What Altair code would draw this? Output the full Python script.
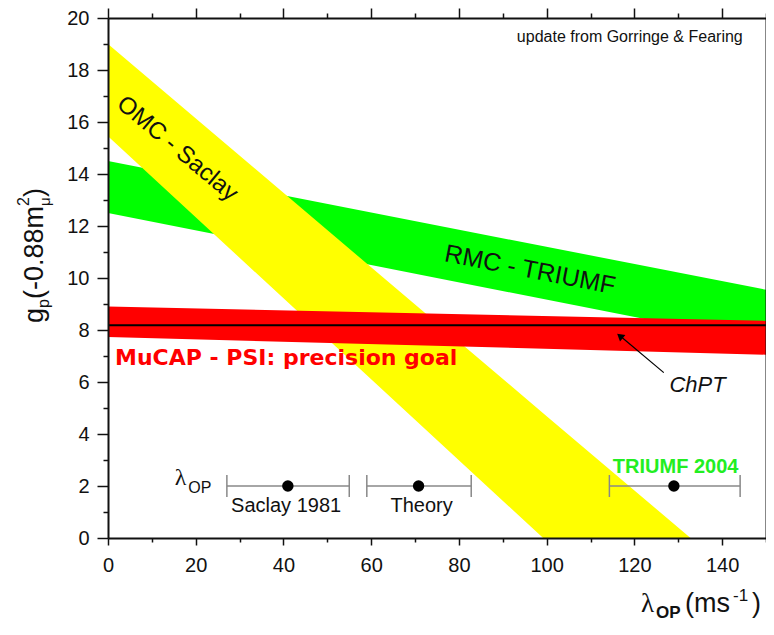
import altair as alt
import pandas as pd

FONT = "Liberation Sans"
SERIF = "Liberation Serif"
INK = "#111111"

# ---------------- data ----------------
X_DOMAIN = [0, 150]
Y_DOMAIN = [0, 20]

# OMC - Saclay band (yellow)
omc_x = [0.0, 99.2, 132.8]
omc_hi = [19.0, 4.8, 0.0]
omc_lo = [15.45, 0.0, 0.0]

# RMC - TRIUMF band (green)
rmc_x = [0.0, 150.0]
rmc_hi = [14.5, 9.55]
rmc_lo = [12.5, 7.5]

# MuCAP - PSI precision goal band (red)
mucap_x = [0.0, 150.0]
mucap_hi = [8.9, 8.35]
mucap_lo = [7.73, 7.05]

# ChPT prediction
chpt_value = [8.18]

# lambda_OP measurements / theory
exp_names = ["Saclay 1981", "Theory", "TRIUMF 2004"]
lam_center = [41.0, 70.8, 129.0]
lam_lo = [27.1, 59.0, 114.3]
lam_hi = [55.0, 82.8, 144.1]
lam_y = [2.0, 2.0, 2.0]

# ChPT arrow (tail -> head)
arrow_x = [126.7]
arrow_y = [6.36]
arrow_x2 = [116.9]
arrow_y2 = [7.75]
head_x = [116.7]
head_y = [7.77]

# ---------------- helpers ----------------
xs = alt.Scale(domain=X_DOMAIN, nice=False, zero=False)
ys = alt.Scale(domain=Y_DOMAIN, nice=False, zero=False)


def X(field, axis=None):
    return alt.X(field, type="quantitative", scale=xs, axis=axis)


def Y(field, axis=None):
    return alt.Y(field, type="quantitative", scale=ys, axis=axis)


common = dict(
    grid=False, domainColor=INK, domainWidth=2, tickColor=INK, tickWidth=1.5,
    labelFont=FONT, labelFontSize=20, labelColor=INK, labelOverlap=False,
    labelFlush=False, zindex=1, title=None,
)
xvals = list(range(0, 151, 10))
yvals = list(range(0, 21, 1))


def tsize(mod, big, small):
    return {"condition": {"test": f"datum.value % {mod} === 0", "value": big}, "value": small}


bottom_axis = alt.Axis(orient="bottom", values=xvals, tickSize=tsize(20, 7, 4),
                       labelExpr="datum.value % 20 === 0 ? datum.label : ''",
                       labelPadding=10, **common)
left_axis = alt.Axis(orient="left", values=yvals, tickSize=tsize(2, 11, 5),
                     labelExpr="datum.value % 2 === 0 ? datum.label : ''",
                     labelPadding=8, **common)
top_axis = alt.Axis(orient="top", values=xvals, tickSize=tsize(20, 10, 5),
                    labels=False, **common)
right_axis = alt.Axis(orient="right", values=yvals, tickSize=tsize(2, 10, 5),
                      labels=False, **common)

# ---------------- bands ----------------
green = alt.Chart(pd.DataFrame({"x": rmc_x, "hi": rmc_hi, "lo": rmc_lo})).mark_area(
    color="#00FF00", opacity=1
).encode(x=X("x", bottom_axis), y=Y("hi", left_axis), y2="lo")

yellow = alt.Chart(pd.DataFrame({"x": omc_x, "hi": omc_hi, "lo": omc_lo})).mark_area(
    color="#FFFF00", opacity=1
).encode(x=X("x", top_axis), y=Y("hi", right_axis), y2="lo")

red = alt.Chart(pd.DataFrame({"x": mucap_x, "hi": mucap_hi, "lo": mucap_lo})).mark_area(
    color="#FF0000", opacity=1
).encode(x=X("x"), y=Y("hi"), y2="lo")

chpt = alt.Chart(pd.DataFrame({"y": chpt_value})).mark_rule(
    color="#000000", strokeWidth=2
).encode(y=Y("y"))

arrow = alt.Chart(pd.DataFrame({"x": arrow_x, "y": arrow_y, "x2": arrow_x2, "y2": arrow_y2})).mark_rule(
    color="#000000", strokeWidth=1.2
).encode(x=X("x"), y=Y("y"), x2="x2", y2="y2")

arrow_head = alt.Chart(pd.DataFrame({"x": head_x, "y": head_y})).mark_point(
    shape="triangle-up", filled=True, size=70, angle=310, color="#000000", opacity=1
).encode(x=X("x"), y=Y("y"))

# ---------------- lambda_OP error bars ----------------
lam_df = pd.DataFrame({"name": exp_names, "c": lam_center, "lo": lam_lo, "hi": lam_hi, "y": lam_y})
caps_df = pd.DataFrame({"x": lam_lo + lam_hi, "y": lam_y + lam_y})

bars = alt.Chart(lam_df).mark_rule(color="#888888", strokeWidth=1.5).encode(
    x=X("lo"), x2="hi", y=Y("y"))
caps = alt.Chart(caps_df).mark_tick(orient="vertical", size=22, thickness=1.5,
                                    color="#888888", opacity=1).encode(x=X("x"), y=Y("y"))
dots = alt.Chart(lam_df).mark_circle(size=130, color="#000000", opacity=1).encode(
    x=X("c"), y=Y("y"))


# ---------------- annotations (data coordinates) ----------------
def label(text, x, y, **kw):
    return alt.Chart(pd.DataFrame({"x": [x], "y": [y]})).mark_text(
        text=text, **kw).encode(x=X("x"), y=Y("y"))


ann = [
    label("OMC - Saclay", 15.8, 14.97, angle=40, fontSize=24, font=FONT, color=INK,
          align="center", baseline="middle"),
    label("RMC - TRIUMF", 96.2, 10.32, angle=11, fontSize=25, font=FONT, color=INK,
          align="center", baseline="middle"),
    label("MuCAP - PSI: precision goal", 1.6, 6.67, fontSize=22, font="DejaVu Sans",
          fontWeight="bold", color="#FF0000", align="left", baseline="alphabetic"),
    label("ChPT", 134.4, 5.87, fontSize=22, font=FONT, fontStyle="italic", color=INK,
          align="center", baseline="middle"),
    label("update from Gorringe & Fearing", 93.2, 19.09, fontSize=16, font=FONT,
          color=INK, align="left", baseline="alphabetic"),
    label("Saclay 1981", 40.6, 0.99, fontSize=20, font=FONT, color=INK,
          align="center", baseline="alphabetic"),
    label("Theory", 71.5, 0.99, fontSize=20, font=FONT, color=INK,
          align="center", baseline="alphabetic"),
    label("TRIUMF 2004", 129.4, 2.51, fontSize=20, font=FONT, fontWeight="bold",
          color="#22EE22", align="center", baseline="alphabetic"),
    label("λ", 15.2, 2.02, fontSize=24, font=SERIF, color=INK, align="left",
          baseline="alphabetic"),
    label("OP", 18.3, 1.75, fontSize=16, font=FONT, color=INK, align="left",
          baseline="alphabetic"),
]


# ---------------- axis titles (pixel positions relative to plot area) ----------------
def ptext(text, px, py, **kw):
    return alt.Chart(pd.DataFrame({"a": [0]})).mark_text(
        text=text, align="left", baseline="alphabetic", color=INK, **kw
    ).encode(x=alt.value(px), y=alt.value(py))


titles = [
    # x title: λ_OP (ms^-1)
    ptext("λ", 533, 594, fontSize=27, font=SERIF),
    ptext("OP", 548, 600, fontSize=17, font=FONT, fontWeight="bold"),
    ptext("(ms", 577, 594, fontSize=27, font=FONT),
    ptext("-1", 625, 583, fontSize=17, font=FONT),
    ptext(")", 644, 594, fontSize=27, font=FONT),
    # y title: g_p(-0.88 m_mu^2), rotated
    ptext("g", -65, 305, fontSize=27, font=FONT, angle=270),
    ptext("p", -59, 290, fontSize=16, font=FONT, angle=270),
    ptext("(-0.88m", -65, 281, fontSize=27, font=FONT, angle=270),
    ptext("μ", -58, 188, fontSize=15, font=FONT, angle=270),
    ptext("2", -79, 188, fontSize=16, font=FONT, angle=270),
    ptext(")", -65, 179, fontSize=27, font=FONT, angle=270),
]

chart = alt.layer(
    green, yellow, red, chpt, arrow, arrow_head, bars, caps, dots, *ann, *titles
).resolve_axis(x="independent", y="independent").properties(
    width=658, height=520,
    autosize=alt.AutoSizeParams(type="none"),
    padding={"left": 100, "top": 10, "right": 0, "bottom": 85},
).configure_view(stroke=None).configure(background="white")

chart.save("out.html", embed_options={"renderer": "svg", "actions": False})
